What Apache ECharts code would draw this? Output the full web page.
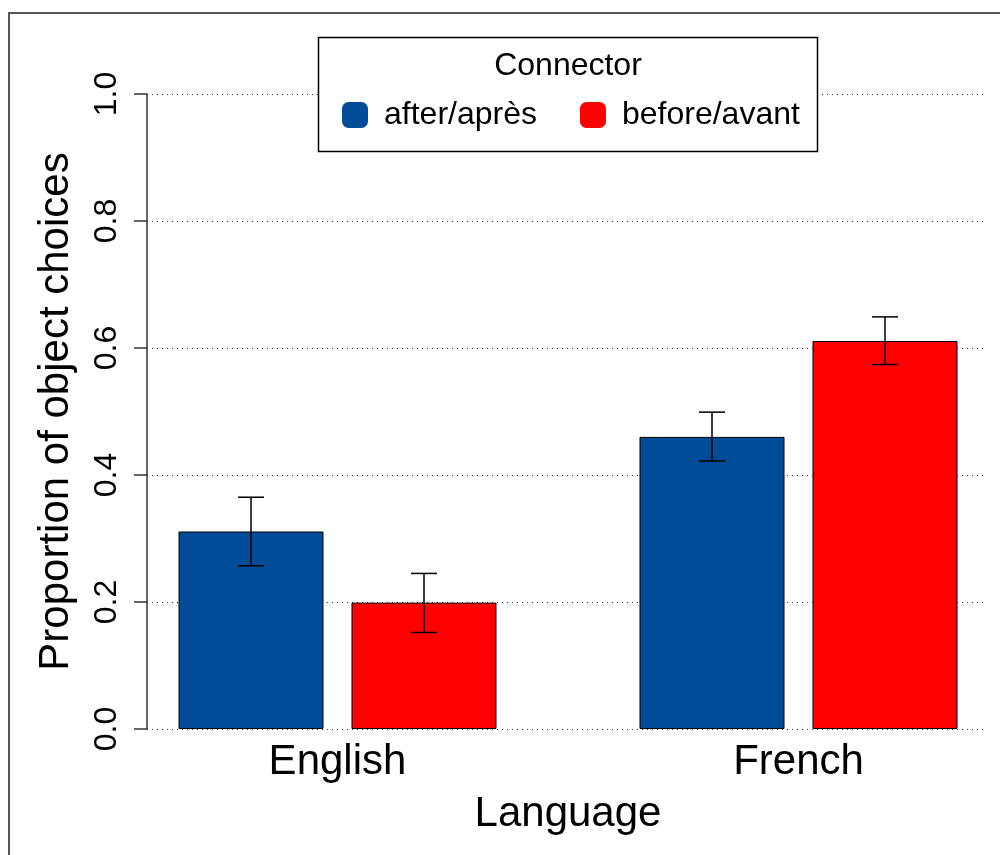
<!DOCTYPE html>
<html><head><meta charset="utf-8">
<script src="https://cdn.jsdelivr.net/npm/echarts@6/dist/echarts.min.js"></script>
<style>html,body{margin:0;padding:0;background:#fff}#c{width:1000px;height:855px}</style>
</head><body><div id="c"></div>
<script>
const categories = ['English', 'French'];
const seriesNames = ['after/après', 'before/avant'];
const afterValues = [0.311, 0.460];
const beforeValues = [0.199, 0.611];
const afterLower = [0.257, 0.422];
const afterUpper = [0.365, 0.499];
const beforeLower = [0.152, 0.574];
const beforeUpper = [0.245, 0.649];
const yTickValues = [0, 0.2, 0.4, 0.6, 0.8, 1.0];
const legendTitle = 'Connector';
const xName = 'Language';
const yName = 'Proportion of object choices';

const FONT = 'Liberation Sans, Arial, Helvetica, sans-serif';
const BAR_W = 145, BAR_GAP_PX = 28;
const OFFSET = (BAR_W + BAR_GAP_PX) / 2;
const colors = ['#004C99', '#FF0000'];

function errSeries(name, lower, upper, sign) {
  return {
    type: 'custom', name: name + ' err', xAxisIndex: 1, yAxisIndex: 1, z: 5,
    silent: true,
    data: categories.map((c, i) => [i, lower[i], upper[i]]),
    renderItem: function (params, api) {
      const lo = api.coord([api.value(0), api.value(1)]);
      const hi = api.coord([api.value(0), api.value(2)]);
      const x = lo[0] + sign * OFFSET;
      const cap = 13;
      const st = { stroke: '#000', lineWidth: 1.5 };
      return { type: 'group', children: [
        { type: 'line', shape: { x1: x, y1: lo[1], x2: x, y2: hi[1] }, style: st },
        { type: 'line', shape: { x1: x - cap, y1: lo[1], x2: x + cap, y2: lo[1] }, style: st },
        { type: 'line', shape: { x1: x - cap, y1: hi[1], x2: x + cap, y2: hi[1] }, style: st }
      ]};
    }
  };
}

const chart = echarts.init(document.getElementById('c'), null, { renderer: 'canvas' });
chart.setOption({
  backgroundColor: '#fff',
  animation: false,
  textStyle: { fontFamily: FONT },
  grid: [
    { left: 147, right: 17, top: 94, bottom: 126, outerBoundsMode: 'none', containLabel: false },
    { left: 107, width: 922, top: 94, bottom: 126, outerBoundsMode: 'none', containLabel: false }
  ],
  xAxis: [
    { gridIndex: 0, type: 'category', data: categories, show: false },
    { gridIndex: 1, type: 'category', data: categories,
      axisLine: { show: false }, axisTick: { show: false },
      axisLabel: { fontSize: 42, color: '#000', margin: 12, fontFamily: FONT },
      name: xName, nameLocation: 'middle', nameGap: 64,
      nameTextStyle: { fontSize: 42, color: '#000', fontFamily: FONT } }
  ],
  yAxis: [
    { gridIndex: 0, type: 'value', min: 0, max: 1, interval: 0.2,
      axisLine: { show: true, lineStyle: { color: '#333', width: 1.5 } },
      axisTick: { show: true, length: 13, lineStyle: { color: '#333', width: 1.5 } },
      axisLabel: { rotate: 90, fontSize: 32, color: '#000', margin: 24, fontFamily: FONT,
        formatter: v => yTickValues.some(t => Math.abs(t - v) < 1e-9) ? v.toFixed(1) : '' },
      splitLine: { show: true, lineStyle: { color: '#333', width: 1, type: [1, 4] } },
      name: yName, nameLocation: 'middle', nameGap: 70, nameRotate: 90,
      nameTextStyle: { fontSize: 42, color: '#000', fontFamily: FONT } },
    { gridIndex: 1, type: 'value', min: 0, max: 1, show: false, splitLine: { show: false } }
  ],
  legend: {
    data: seriesNames, left: 342, top: 99, padding: 0, orient: 'horizontal',
    icon: 'roundRect', itemWidth: 26, itemHeight: 26, itemGap: 43,
    itemStyle: { borderWidth: 0 },
    textStyle: { fontSize: 32, color: '#000', fontFamily: FONT, padding: [0, 0, 0, 11] },
    z: 10
  },
  graphic: [
    { type: 'rect', z: 1, shape: { x: 9, y: 13, width: 1010, height: 900 },
      style: { fill: 'none', stroke: '#555', lineWidth: 2 } },
    { type: 'rect', z: 8, shape: { x: 318.5, y: 37.5, width: 499, height: 114 },
      style: { fill: '#fff', stroke: '#000', lineWidth: 1.5 } },
    { type: 'text', z: 9, style: { x: 568, y: 66, text: legendTitle, fontSize: 32,
      fontFamily: FONT, fill: '#000', textAlign: 'center', textVerticalAlign: 'middle' } }
  ],
  series: [
    { type: 'bar', name: seriesNames[0], xAxisIndex: 1, yAxisIndex: 1, data: afterValues,
      barWidth: BAR_W, barGap: (BAR_GAP_PX / BAR_W * 100).toFixed(2) + '%',
      itemStyle: { color: colors[0], borderColor: '#000', borderWidth: 1 } },
    { type: 'bar', name: seriesNames[1], xAxisIndex: 1, yAxisIndex: 1, data: beforeValues,
      barWidth: BAR_W, barGap: (BAR_GAP_PX / BAR_W * 100).toFixed(2) + '%',
      itemStyle: { color: colors[1], borderColor: '#000', borderWidth: 1 } },
    errSeries(seriesNames[0], afterLower, afterUpper, -1),
    errSeries(seriesNames[1], beforeLower, beforeUpper, 1)
  ]
});
</script></body></html>
